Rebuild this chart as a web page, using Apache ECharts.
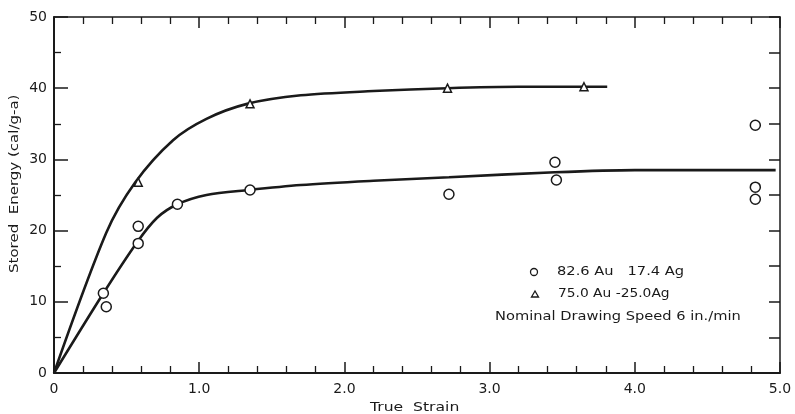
<!DOCTYPE html>
<html>
<head>
<meta charset="utf-8">
<script src="https://cdn.jsdelivr.net/npm/echarts@6/dist/echarts.min.js"></script>
<style>
html,body{margin:0;padding:0;background:#fff;}
#c{width:795px;height:414px;}
</style>
</head>
<body>
<div id="c"></div>
<script>
// ---- data ----
const circleX = [0.34, 0.36, 0.58, 0.58, 0.85, 1.35, 2.72, 3.45, 3.46, 4.83, 4.83, 4.83];
const circleY = [11.2, 9.3, 20.6, 18.2, 23.7, 25.7, 25.1, 29.6, 27.1, 34.8, 26.1, 24.4];
const triX = [0.58, 1.35, 2.71, 3.65];
const triY = [26.8, 37.8, 40.0, 40.2];
// fitted curves as drawn
const curveTriX = [0, 0.36, 0.56, 0.82, 1.05, 1.33, 1.7, 2.2, 2.71, 3.2, 3.81];
const curveTriY = [0, 19.7, 26.8, 32.7, 35.7, 37.8, 39.0, 39.6, 40.0, 40.2, 40.2];
const curveCircX = [0, 0.34, 0.57, 0.71, 0.85, 1.05, 1.34, 1.7, 2.2, 2.72, 3.45, 4.0, 4.97];
const curveCircY = [0, 11.2, 18.3, 21.8, 23.7, 25.0, 25.7, 26.4, 27.0, 27.5, 28.2, 28.5, 28.5];
const xTickLabels = ['0', '1.0', '2.0', '3.0', '4.0', '5.0'];
const yTickLabels = ['0', '10', '20', '30', '40', '50'];
const xTitle = 'True  Strain';
const yTitle = 'Stored  Energy (cal/g-a)';
const legendLines = ['82.6 Au   17.4 Ag', '75.0 Au -25.0Ag', 'Nominal Drawing Speed 6 in./min'];

const ink = '#1a1a1a';
const font = 'DejaVu Sans';
const zip = (a, b) => a.map((v, i) => [v, b[i]]);

const chart = echarts.init(document.getElementById('c'), null, {renderer: 'canvas'});

const baseX = {
  type: 'value', min: 0, max: 5, interval: 1,
  axisLine: {show: true, onZero: false, lineStyle: {color: ink, width: 2}},
  axisTick: {show: true, inside: true, length: 11, lineStyle: {color: ink, width: 1.5}},
  minorTick: {show: true, splitNumber: 5, length: 7, lineStyle: {color: ink, width: 1.3}},
  splitLine: {show: false}
};
const baseY = {
  type: 'value', min: 0, max: 50, interval: 10,
  axisLine: {show: true, onZero: false, lineStyle: {color: ink, width: 2}},
  axisTick: {show: true, inside: true, length: 14, lineStyle: {color: ink, width: 1.5}},
  minorTick: {show: true, splitNumber: 2, length: 7, lineStyle: {color: ink, width: 1.3}},
  splitLine: {show: false}
};

const txt = (text, x, y, sx, extra) => Object.assign({
  type: 'text', x: x, y: y, scaleX: sx,
  style: {text: text, fill: ink, font: '12px "' + font + '"', textVerticalAlign: 'middle'}
}, extra || {});

const option = {
  backgroundColor: '#fff',
  animation: false,
  grid: {left: 54, right: 15, top: 17, bottom: 41},
  xAxis: [
    Object.assign({}, baseX, {
      position: 'bottom',
      axisLabel: {
        show: true, margin: 9, color: ink, fontFamily: font, fontSize: 14,
        formatter: v => xTickLabels[Math.round(v)]
      }
    }),
    Object.assign({}, baseX, {
      position: 'top',
      axisLine: {show: true, onZero: false, lineStyle: {color: ink, width: 1.5}},
      axisLabel: {show: false}
    })
  ],
  yAxis: [
    Object.assign({}, baseY, {
      position: 'left',
      axisLabel: {
        show: true, margin: 7, color: ink, fontFamily: font, fontSize: 14,
        formatter: v => yTickLabels[Math.round(v / 10)]
      }
    }),
    Object.assign({}, baseY, {
      position: 'right',
      interval: 5,
      axisLine: {show: true, onZero: false, lineStyle: {color: ink, width: 1.5}},
      axisTick: {show: true, inside: true, length: 11, lineStyle: {color: ink, width: 1.5}},
      minorTick: {show: false},
      axisLabel: {show: false}
    })
  ],
  series: [
    {
      type: 'line', data: zip(curveTriX, curveTriY), smooth: 0.3, showSymbol: false,
      lineStyle: {color: ink, width: 2.6}, z: 2
    },
    {
      type: 'line', data: zip(curveCircX, curveCircY), smooth: 0.3, showSymbol: false,
      lineStyle: {color: ink, width: 2.6}, z: 2
    },
    {
      type: 'scatter', data: zip(circleX, circleY), symbol: 'circle', symbolSize: 10,
      itemStyle: {color: '#fff', borderColor: ink, borderWidth: 1.5, opacity: 1}, z: 3
    },
    {
      type: 'scatter', data: zip(triX, triY), symbol: 'triangle', symbolSize: 8,
      itemStyle: {color: '#fff', borderColor: ink, borderWidth: 1.5, opacity: 1}, z: 3
    }
  ],
  graphic: [
    txt(xTitle, 370, 408, 1.3),
    {
      type: 'text', x: 9, y: 273, rotation: Math.PI / 2, scaleX: 1.25,
      style: {text: yTitle, fill: ink, font: '12px "' + font + '"', textAlign: 'left', textVerticalAlign: 'top'}
    },
    {
      type: 'circle', shape: {cx: 534, cy: 272, r: 3.5},
      style: {fill: '#fff', stroke: ink, lineWidth: 1.3}
    },
    {
      type: 'polygon', shape: {points: [[535, 291], [531.5, 297], [538.5, 297]]},
      style: {fill: '#fff', stroke: ink, lineWidth: 1.3}
    },
    txt(legendLines[0], 557, 272, 1.22),
    txt(legendLines[1], 558, 294, 1.15),
    txt(legendLines[2], 495, 317, 1.22)
  ]
};
chart.setOption(option);
</script>
</body>
</html>
